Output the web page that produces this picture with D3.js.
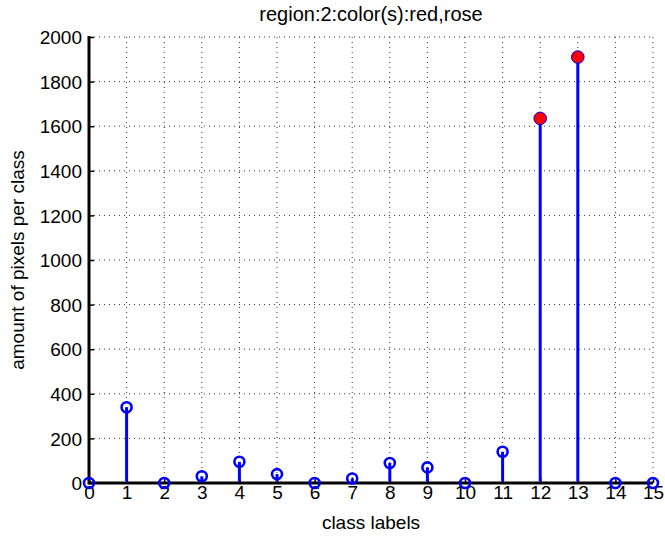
<!DOCTYPE html>
<html><head><meta charset="utf-8">
<script src="https://cdn.jsdelivr.net/npm/d3@7"></script>
<style>body{margin:0;background:#fff}svg{display:block}text{font-family:"Liberation Sans",Arial,sans-serif;fill:#000}</style>
</head><body><svg id="c" width="665" height="537"></svg>
<script>
const classes = [0,1,2,3,4,5,6,7,8,9,10,11,12,13,14,15];
const counts = [0,340,0,30,95,40,0,20,90,70,0,140,1635,1910,0,0];
const highlighted = [12,13];
const yTicks = [0,200,400,600,800,1000,1200,1400,1600,1800,2000];
const titleText = "region:2:color(s):red,rose";
const xLabel = "class labels";
const yLabel = "amount of pixels per class";

const svg = d3.select("#c");
const m = {l:89, r:653, t:37, b:483};
const x = d3.scaleLinear().domain([0,15]).range([m.l,m.r]);
const y = d3.scaleLinear().domain([0,2000]).range([m.b,m.t]);
const FS = 19;

// grid
const g = svg.append("g");
g.selectAll(".gx").data(classes.slice(1)).join("line")
  .attr("x1",d=>x(d)).attr("x2",d=>x(d)).attr("y1",m.t).attr("y2",m.b)
  .attr("stroke","#333").attr("stroke-width",1).attr("stroke-dasharray","1,4");
g.selectAll(".gy").data(yTicks.slice(1)).join("line")
  .attr("x1",m.l).attr("x2",m.r).attr("y1",d=>y(d)).attr("y2",d=>y(d))
  .attr("stroke","#333").attr("stroke-width",1).attr("stroke-dasharray","1,4");

// axes
const ya = d3.axisLeft(y).tickValues(yTicks).tickSize(-5).tickPadding(7).tickFormat(d3.format("d"));
const xa = d3.axisBottom(x).tickValues(classes).tickSize(-5).tickPadding(6).tickFormat(d3.format("d"));
const yg = svg.append("g").attr("transform",`translate(${m.l},0)`).call(ya);
const xg = svg.append("g").attr("transform",`translate(0,${m.b})`).call(xa);
[yg,xg].forEach(a=>{
  a.select(".domain").remove();
  a.selectAll(".tick line").attr("stroke","#000").attr("stroke-width",1.5);
  a.selectAll("text").attr("font-size",FS).style("font-family","Liberation Sans, Arial, sans-serif");
});
yg.selectAll("text").attr("dy","0.35em");
xg.selectAll("text").attr("y",2).attr("dy","0.71em");
svg.append("line").attr("x1",m.l).attr("x2",m.l).attr("y1",m.t-1).attr("y2",m.b+1.5).attr("stroke","#000").attr("stroke-width",3);
svg.append("line").attr("x1",m.l).attr("x2",m.r).attr("y1",m.b).attr("y2",m.b).attr("stroke","#000").attr("stroke-width",3);

// stems
const data = classes.map((c,i)=>({c, v:counts[i], hi: highlighted.includes(c)}));
svg.selectAll(".stem").data(data.filter(d=>d.v>0)).join("line")
  .attr("x1",d=>x(d.c)).attr("x2",d=>x(d.c)).attr("y1",y(0)-1.5).attr("y2",d=>y(d.v))
  .attr("stroke","#0000ff").attr("stroke-width",3);
svg.selectAll(".mk").data(data).join("circle")
  .attr("cx",d=>x(d.c)).attr("cy",d=>y(d.v))
  .attr("r",d=>d.hi?6.3:5)
  .attr("fill",d=>d.hi?"#ff0000":"none")
  .attr("stroke","#0000ff").attr("stroke-width",d=>d.hi?1:2.6);

// labels
svg.append("text").attr("x",(m.l+m.r)/2).attr("y",21).attr("text-anchor","middle").attr("font-size",20).text(titleText);
svg.append("text").attr("x",(m.l+m.r)/2).attr("y",529).attr("text-anchor","middle").attr("font-size",FS).text(xLabel);
svg.append("text").attr("transform",`translate(24,${(m.t+m.b)/2}) rotate(-90)`).attr("text-anchor","middle").attr("font-size",FS).text(yLabel);
</script></body></html>
